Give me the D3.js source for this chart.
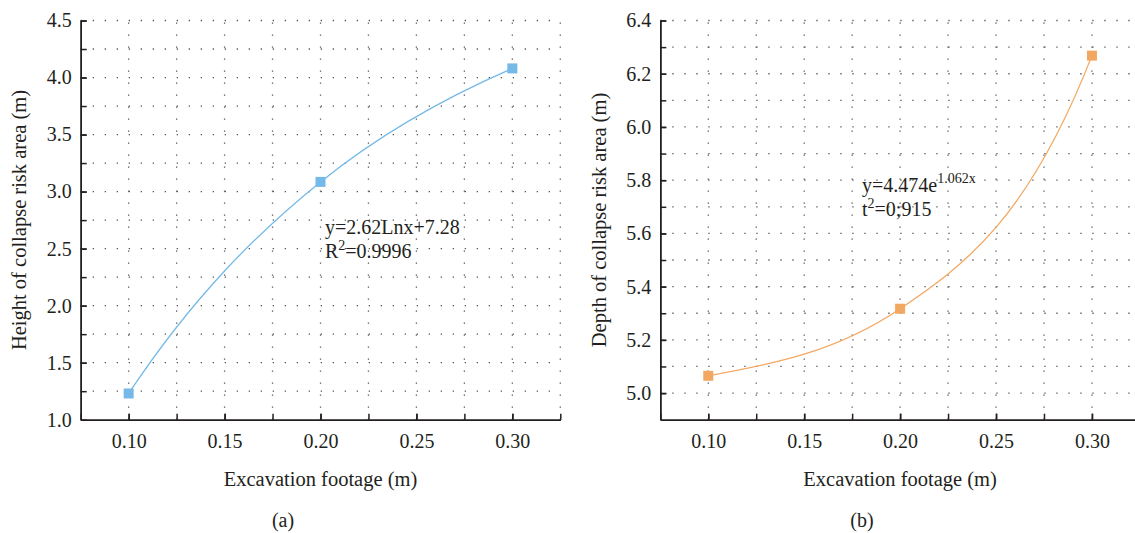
<!DOCTYPE html>
<html>
<head>
<meta charset="utf-8">
<script src="https://cdn.jsdelivr.net/npm/d3@7/dist/d3.min.js"></script>
<style>
  body { margin: 0; background: #fff; }
  svg text { font-family: "Liberation Serif", "Times New Roman", serif; fill: #231f20; }
  .grid line { stroke: #555; stroke-width: 1.3; stroke-dasharray: 1.3, 10.7; }
  .axis path, .axis line { stroke: #231f20; stroke-width: 1.5; }
  .axis text { font-size: 20px; font-family: "Liberation Serif", "Times New Roman", serif; fill: #231f20; }
</style>
</head>
<body>
<div id="chart"></div>
<script>
// data
var footage = [0.10, 0.20, 0.30];
var collapseHeight = [1.23, 3.085, 4.08];
var collapseDepth = [5.065, 5.317, 6.268];

// ticks and grid
var xTicks = [0.10, 0.15, 0.20, 0.25, 0.30];
var xMinor = [0.075, 0.10, 0.125, 0.15, 0.175, 0.20, 0.225, 0.25, 0.275, 0.30, 0.325];
var heightTicks = [1.0, 1.5, 2.0, 2.5, 3.0, 3.5, 4.0, 4.5];
var heightMinor = [1.25, 1.5, 1.75, 2.0, 2.25, 2.5, 2.75, 3.0, 3.25, 3.5, 3.75, 4.0, 4.25, 4.5];
var depthTicks = [5.0, 5.2, 5.4, 5.6, 5.8, 6.0, 6.2, 6.4];
var depthMinor = [5.0, 5.1, 5.2, 5.3, 5.4, 5.5, 5.6, 5.7, 5.8, 5.9, 6.0, 6.1, 6.2, 6.3, 6.4];

var width = 1135, height = 533;

var svg = d3.select("#chart")
    .append("svg")
        .attr("width", width)
        .attr("height", height);

// smooth curve through the points, tangents taken as the geometric mean
// of neighbouring slopes (looks like the spline in the original plot)
function curveRatio(context) {
    var xs, ys;
    return {
        areaStart: function() {},
        areaEnd: function() {},
        lineStart: function() { xs = []; ys = []; },
        point: function(px, py) { xs.push(+px); ys.push(+py); },
        lineEnd: function() {
            var n = xs.length, i;
            if (!n) return;
            context.moveTo(xs[0], ys[0]);
            if (n < 3) {
                for (i = 1; i < n; i++) context.lineTo(xs[i], ys[i]);
                return;
            }
            var s = [], m = [];
            for (i = 0; i < n - 1; i++) s.push((ys[i + 1] - ys[i]) / (xs[i + 1] - xs[i]));
            for (i = 1; i < n - 1; i++) {
                m[i] = s[i - 1] * s[i] > 0 ? Math.sign(s[i]) * Math.sqrt(s[i - 1] * s[i]) : 0;
            }
            m[0] = m[1] ? s[0] * s[0] / m[1] : s[0];
            m[n - 1] = m[n - 2] ? s[n - 2] * s[n - 2] / m[n - 2] : s[n - 2];
            for (i = 0; i < n - 1; i++) {
                var h = (xs[i + 1] - xs[i]) / 3;
                context.bezierCurveTo(xs[i] + h, ys[i] + h * m[i],
                    xs[i + 1] - h, ys[i + 1] - h * m[i + 1],
                    xs[i + 1], ys[i + 1]);
            }
        }
    };
}

function drawPanel(o) {
    var g = svg.append("g");

    var x = d3.scaleLinear()
        .domain([0.075, 0.325])
        .range([o.left, o.left + 479.6]);
    var y = d3.scaleLinear()
        .domain(o.yDomain)
        .range([419.7, 20.5]);

    // dotted grid
    var grid = g.append("g").attr("class", "grid");
    grid.selectAll("line.h")
        .data(o.yGrid)
        .join("line")
        .attr("class", "h")
        .attr("x1", x(0.075)).attr("x2", x(0.325))
        .attr("y1", function(d) { return y(d); })
        .attr("y2", function(d) { return y(d); });
    grid.selectAll("line.v")
        .data(xMinor.filter(function(d) { return d > 0.08; }))
        .join("line")
        .attr("class", "v")
        .attr("x1", function(d) { return x(d); })
        .attr("x2", function(d) { return x(d); })
        .attr("y1", y(o.yDomain[0]))
        .attr("y2", y(o.yDomain[1]));

    // minor ticks (inside)
    g.append("g")
        .attr("class", "axis")
        .attr("transform", "translate(0," + y(o.yDomain[0]) + ")")
        .call(d3.axisBottom(x).tickValues(xMinor).tickFormat("").tickSizeInner(-6).tickSizeOuter(0));
    g.append("g")
        .attr("class", "axis")
        .attr("transform", "translate(" + x(0.075) + ",0)")
        .call(d3.axisLeft(y).tickValues(o.yGrid).tickFormat("").tickSizeInner(-6).tickSizeOuter(0));

    // major axes
    g.append("g")
        .attr("class", "axis")
        .attr("transform", "translate(0," + y(o.yDomain[0]) + ")")
        .call(d3.axisBottom(x).tickValues(xTicks).tickFormat(d3.format(".2f"))
            .tickSizeInner(-6).tickSizeOuter(0).tickPadding(14));
    g.append("g")
        .attr("class", "axis")
        .attr("transform", "translate(" + x(0.075) + ",0)")
        .call(d3.axisLeft(y).tickValues(o.yTicks).tickFormat(d3.format(".1f"))
            .tickSizeInner(-6).tickSizeOuter(0).tickPadding(9));

    // curve through the points
    var line = d3.line()
        .x(function(d, i) { return x(footage[i]); })
        .y(function(d) { return y(d); })
        .curve(curveRatio);
    g.append("path")
        .datum(o.values)
        .attr("d", line)
        .attr("fill", "none")
        .attr("stroke", o.color)
        .attr("stroke-width", 1.3);

    g.selectAll("rect.pt")
        .data(o.values)
        .join("rect")
        .attr("class", "pt")
        .attr("x", function(d, i) { return x(footage[i]) - 5; })
        .attr("y", function(d) { return y(d) - 5; })
        .attr("width", 10)
        .attr("height", 10)
        .attr("fill", o.color);

    // labels
    g.append("text")
        .attr("transform", "translate(" + o.labelX + "," + 220 + ") rotate(-90)")
        .attr("text-anchor", "middle")
        .style("font-size", "20.5px")
        .text(o.yLabel);
    g.append("text")
        .attr("x", x(0.2))
        .attr("y", 486)
        .attr("text-anchor", "middle")
        .style("font-size", "20.5px")
        .text("Excavation footage (m)");
    g.append("text")
        .attr("x", o.capX)
        .attr("y", 527)
        .attr("text-anchor", "middle")
        .style("font-size", "20px")
        .text(o.caption);

    // equation
    var eq = g.append("g").style("font-size", "20px");
    var t1 = eq.append("text").attr("x", o.eqX).attr("y", o.eqY);
    t1.append("tspan").text(o.eq[0]);
    if (o.eq[1]) t1.append("tspan").attr("dy", -9).style("font-size", "14px").text(o.eq[1]);
    var t2 = eq.append("text").attr("x", o.eqX).attr("y", o.eqY + 24);
    t2.append("tspan").text(o.r2[0]);
    t2.append("tspan").attr("dy", -8).style("font-size", "14px").text("2");
    t2.append("tspan").attr("dy", 8).text(o.r2[1]);
}

drawPanel({
    left: 80.7,
    yDomain: [1.0, 4.5],
    yTicks: heightTicks,
    yGrid: heightMinor,
    values: collapseHeight,
    color: "#74b9e7",
    yLabel: "Height of collapse risk area (m)",
    labelX: 26,
    capX: 283,
    caption: "(a)",
    eqX: 325, eqY: 234,
    eq: ["y=2.62Lnx+7.28"],
    r2: ["R", "=0.9996"]
});

drawPanel({
    left: 660.3,
    yDomain: [4.9, 6.4],
    yTicks: depthTicks,
    yGrid: depthMinor,
    values: collapseDepth,
    color: "#f3a862",
    yLabel: "Depth of collapse risk area (m)",
    labelX: 606,
    capX: 862,
    caption: "(b)",
    eqX: 862, eqY: 192,
    eq: ["y=4.474e", "1.062x"],
    r2: ["t", "=0;915"]
});
</script>
</body>
</html>
